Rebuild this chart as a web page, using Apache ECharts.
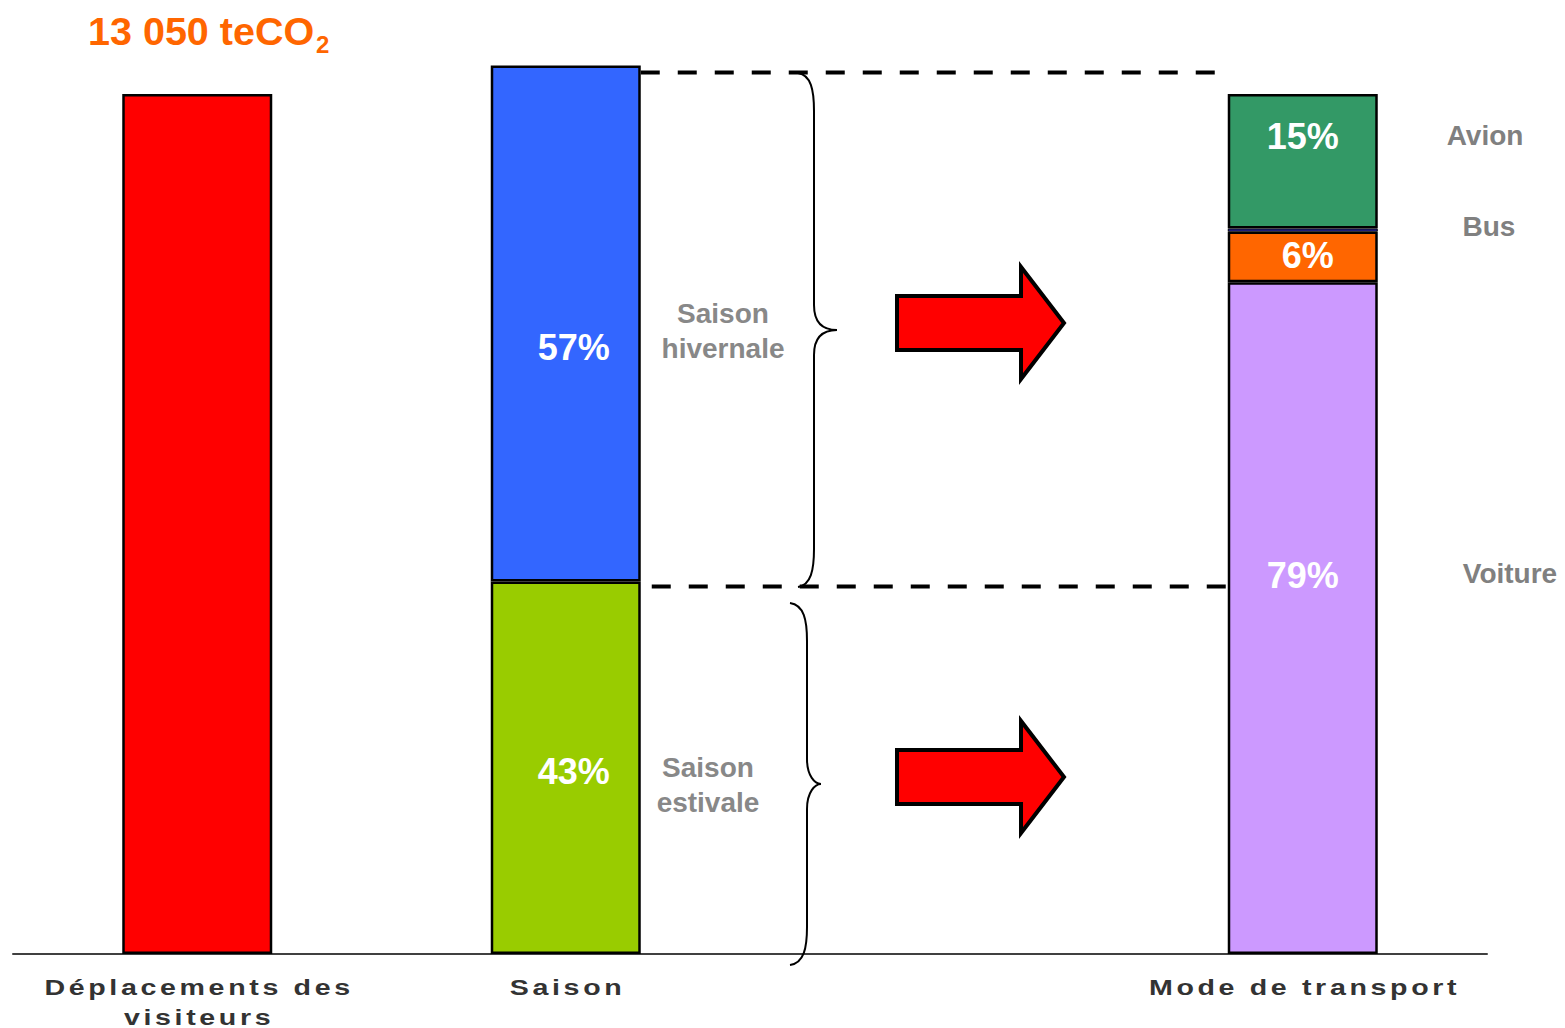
<!DOCTYPE html>
<html>
<head>
<meta charset="utf-8">
<script src="https://cdn.jsdelivr.net/npm/echarts@6/dist/echarts.min.js"></script>
<style>
html,body{margin:0;padding:0;background:#fff;overflow:hidden;}
#chart{width:1565px;height:1028px;}
</style>
</head>
<body>
<div id="chart"></div>
<script>
// ---------- data ----------
const categories = ['Déplacements des\nvisiteurs', 'Saison', '', 'Mode de transport'];
const totalValues = [100, '-', '-', '-'];          // Déplacements des visiteurs
const estivaleValues = ['-', 43.3, '-', '-'];      // Saison estivale
const hivernaleValues = ['-', 60, '-', '-'];       // Saison hivernale
const voitureValues = ['-', '-', '-', 78.1];
const busValues = ['-', '-', '-', 5.9];
const autreValues = ['-', '-', '-', 0.35];
const avionValues = ['-', '-', '-', 15.65];
const seasonLabels = ['43%', '57%'];
const modeLabels = ['79%', '6%', '15%'];
const modeNames = ['Voiture', 'Bus', 'Avion'];
const seasonNames = ['Saison\nestivale', 'Saison\nhivernale'];
const titleMain = '13 050 teCO';
const titleSub = '2';

const chart = echarts.init(document.getElementById('chart'), null, {renderer: 'svg', width: 1565, height: 1028});
const FONT = 'Liberation Sans, Arial, sans-serif';
const border = {borderColor: '#000', borderWidth: 2.5};

function pctLabel(text, offset, color) {
  return {
    show: true, position: 'inside', formatter: text, offset: offset,
    color: color || '#fff', fontSize: 36, fontWeight: 'bold', fontFamily: FONT
  };
}

const option = {
  animation: false,
  backgroundColor: '#fff',
  grid: {left: 13, width: 1474, top: 8, height: 946, containLabel: false, outerBoundsMode: 'none'},
  xAxis: {
    type: 'category', data: categories,
    axisLine: {lineStyle: {color: '#404040', width: 2}},
    axisTick: {show: false},
    axisLabel: {
      interval: 0, margin: 18, color: '#333', fontSize: 22, fontWeight: 'bold',
      fontFamily: FONT, lineHeight: 30
    }
  },
  yAxis: {type: 'value', min: 0, max: 110, show: false, splitLine: {show: false}},
  series: [
    {name: 'Déplacements des visiteurs', type: 'bar', stack: 's', barWidth: 150,
     data: totalValues, itemStyle: Object.assign({color: '#ff0000'}, border)},
    {name: 'Saison estivale', type: 'bar', stack: 's', data: estivaleValues,
     itemStyle: Object.assign({color: '#99cc00'}, border),
     label: pctLabel(seasonLabels[0], [8, 4])},
    {name: 'Saison hivernale', type: 'bar', stack: 's', data: hivernaleValues,
     itemStyle: Object.assign({color: '#3366ff'}, border),
     label: pctLabel(seasonLabels[1], [8, 24])},
    {name: 'Voiture', type: 'bar', stack: 's', data: voitureValues,
     itemStyle: Object.assign({color: '#cc99ff'}, border),
     label: pctLabel(modeLabels[0], [0, -43])},
    {name: 'Bus', type: 'bar', stack: 's', data: busValues,
     itemStyle: Object.assign({color: '#ff6600'}, border),
     label: pctLabel(modeLabels[1], [5, -1])},
    {name: 'Autre', type: 'bar', stack: 's', data: autreValues,
     itemStyle: {color: '#3333cc', borderColor: '#000', borderWidth: 1}},
    {name: 'Avion', type: 'bar', stack: 's', data: avionValues,
     itemStyle: Object.assign({color: '#339966'}, border),
     label: pctLabel(modeLabels[2], [0, -25])}
  ]
};
chart.setOption(option);

// ---------- annotations ----------
const yTop2 = chart.convertToPixel({yAxisIndex: 0}, estivaleValues[1] + hivernaleValues[1]);
const yMid2 = chart.convertToPixel({yAxisIndex: 0}, estivaleValues[1]);
const xSaison = chart.convertToPixel({xAxisIndex: 0}, 'Saison');
const xMode = chart.convertToPixel({xAxisIndex: 0}, 'Mode de transport');
const dashStyle = {stroke: '#000', lineWidth: 4, lineDash: [19, 18]};
const arrowStyle = {fill: '#ff0000', stroke: '#000', lineWidth: 4, lineJoin: 'miter'};
const braceStyle = {stroke: '#000', lineWidth: 2, fill: null};
const grayText = {fill: '#888888', fontSize: 28, fontWeight: 'bold', fontFamily: FONT, align: 'center', verticalAlign: 'middle', lineHeight: 35};
const modeText = {fill: '#808080', fontSize: 28, fontWeight: 'bold', fontFamily: FONT, align: 'center', verticalAlign: 'middle'};

function arrow(cy) {
  return {type: 'polygon', shape: {points: [
    [897, cy - 27], [1021, cy - 27], [1021, cy - 56], [1064, cy], [1021, cy + 56], [1021, cy + 27], [897, cy + 27]
  ]}, style: arrowStyle, z: 10};
}
// curly brace: xs = end x, xv = vertical x, xt = tip x
function brace(xs, xv, xt, y0, ym, y1) {
  const c = 38, r = 25;
  const bz = (x1, y1, c1x, c1y, c2x, c2y, x2, y2) => ({type: 'bezierCurve', shape: {x1: x1, y1: y1, cpx1: c1x, cpy1: c1y, cpx2: c2x, cpy2: c2y, x2: x2, y2: y2}, style: braceStyle, z: 10});
  const ln = (x1, y1, x2, y2) => ({type: 'line', shape: {x1: x1, y1: y1, x2: x2, y2: y2}, style: braceStyle, z: 10});
  return [
    bz(xs, y0, xv - 3, y0 + 2, xv, y0 + 17, xv, y0 + c),
    ln(xv, y0 + c, xv, ym - r),
    bz(xv, ym - r, xv, ym - 8, xv + 8, ym, xt, ym),
    bz(xt, ym, xv + 8, ym, xv, ym + 8, xv, ym + r),
    ln(xv, ym + r, xv, y1 - c),
    bz(xv, y1 - c, xv, y1 - 17, xv - 3, y1 - 2, xs, y1)
  ];
}

const graphics = [
  {type: 'text', x: 88, y: 11, style: {text: titleMain, fill: '#ff6600', fontSize: 39.5, fontWeight: 'bold', fontFamily: FONT}},
  {type: 'text', x: 316, y: 32, style: {text: titleSub, fill: '#ff6600', fontSize: 24, fontWeight: 'bold', fontFamily: FONT}},
  {type: 'line', shape: {x1: xSaison + 75, y1: yTop2 + 7, x2: 1215, y2: yTop2 + 7}, style: dashStyle, z: 10},
  {type: 'line', shape: {x1: xSaison + 86, y1: yMid2 + 5, x2: xMode - 75, y2: yMid2 + 5}, style: dashStyle, z: 10},
  arrow(323),
  arrow(777),
  {type: 'text', x: 723, y: 331, style: Object.assign({text: seasonNames[1]}, grayText)},
  {type: 'text', x: 708, y: 785, style: Object.assign({text: seasonNames[0]}, grayText)},
  {type: 'text', x: 1485, y: 135, style: Object.assign({text: modeNames[2]}, modeText)},
  {type: 'text', x: 1489, y: 226, style: Object.assign({text: modeNames[1]}, modeText)},
  {type: 'text', x: 1510, y: 573, style: Object.assign({text: modeNames[0]}, modeText)}
].concat(brace(798, 814, 837, 73, 330, 587), brace(790, 807, 821, 603, 784, 965));

chart.setOption({graphic: graphics});

// the category labels in the reference are horizontally stretched and letter-spaced
const spaced = ['Déplacements des', 'visiteurs', 'Saison', 'Mode de transport'];
const STRETCH = 1.3, SPACING = 2.8;
function spaceLabels() {
  document.querySelectorAll('#chart svg text').forEach(function (t) {
    const st = t.getAttribute('style') || '';
    if (spaced.indexOf(t.textContent) >= 0 && /22px/.test(st) && !t.dataset.spaced) {
      t.dataset.spaced = '1';
      const x = parseFloat(t.getAttribute('x') || '0');
      const old = t.getAttribute('transform') || '';
      t.setAttribute('letter-spacing', String(SPACING));
      t.setAttribute('dx', String(SPACING / 2));
      t.setAttribute('transform', old + ' translate(' + x + ',0) scale(' + STRETCH + ',1) translate(' + (-x) + ',0)');
    }
  });
}
spaceLabels();
chart.on('finished', spaceLabels);
</script>
</body>
</html>
